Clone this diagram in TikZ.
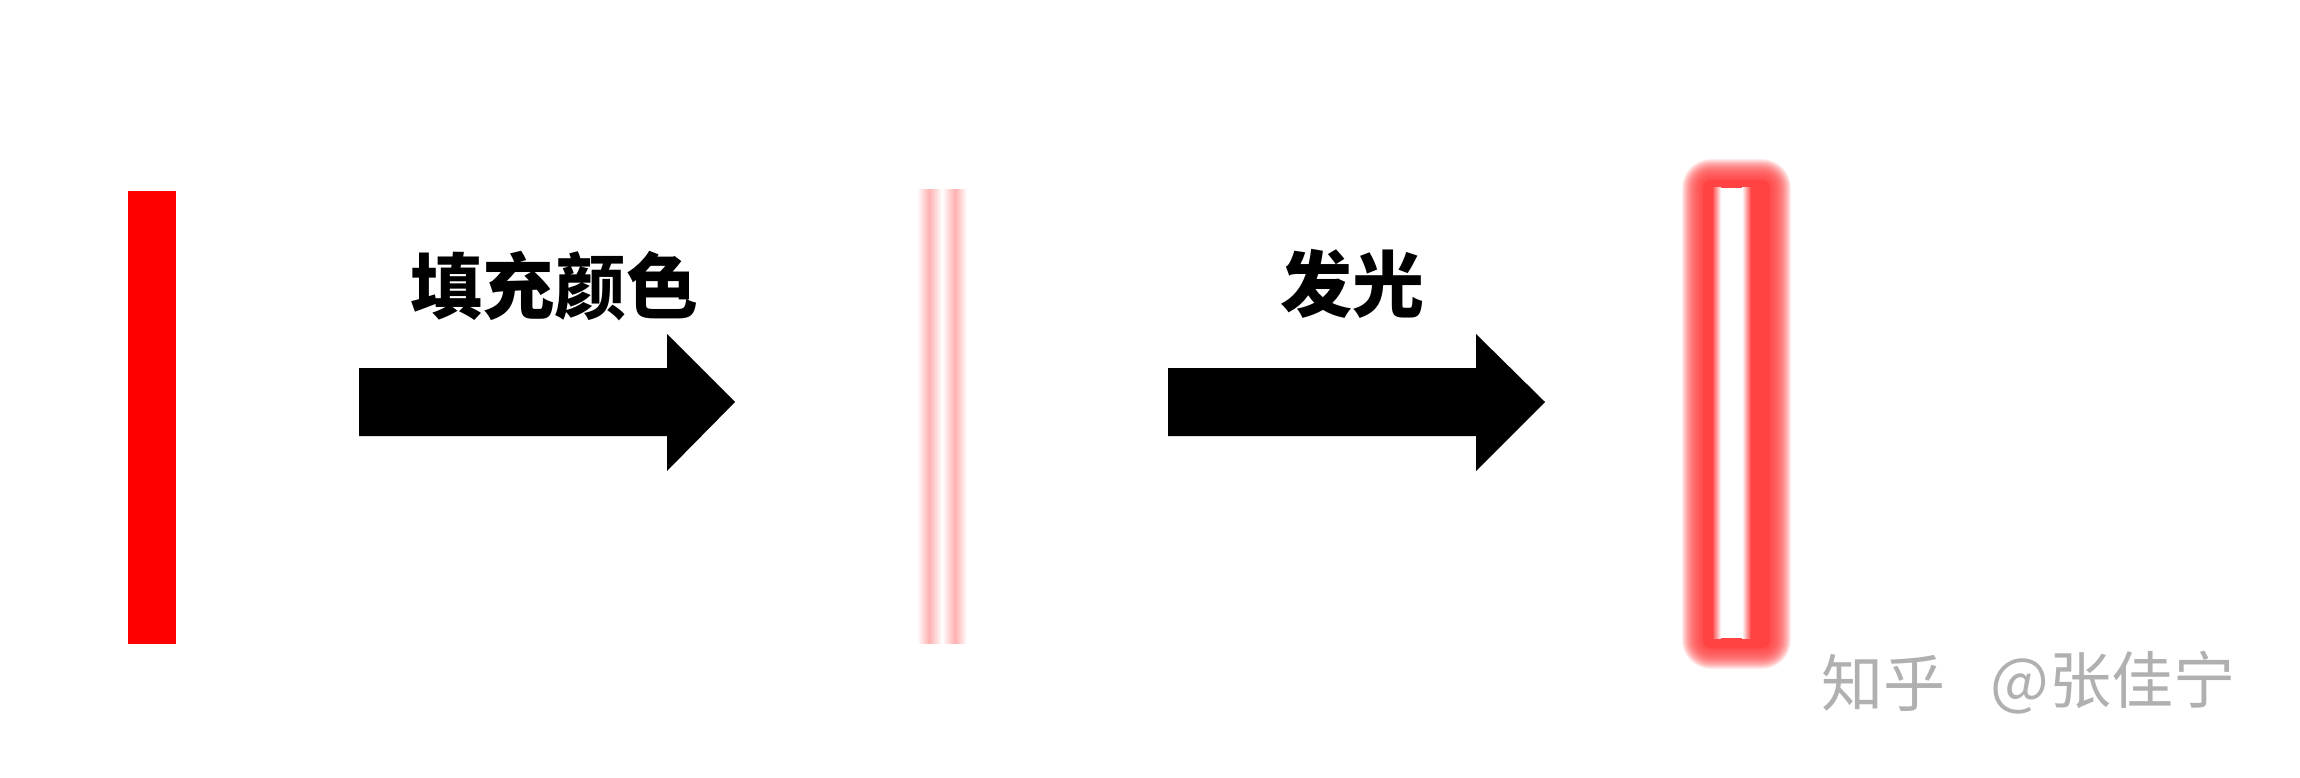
\documentclass[tikz,border=0pt]{standalone}
\usepackage{fontspec}
\newfontfamily\cjk{Noto Sans CJK SC}
\definecolor{pinkbar}{RGB}{255,176,176}
\definecolor{glowred}{RGB}{255,66,66}
\definecolor{wmgray}{RGB}{176,176,176}
\begin{document}
\begin{tikzpicture}[x=1pt,y=-1pt,
  bigarrow/.style={fill=black},
  steplabel/.style={font=\cjk\bfseries\fontsize{72}{80}\selectfont, inner sep=0pt, text=black},
  wmark/.style={font=\cjk\fontsize{62}{70}\selectfont, inner sep=0pt, text=wmgray}]
\useasboundingbox[fill=white] (0,0) rectangle (2300,778);
% original red bar
\fill[red] (128,191) rectangle (176,644);
% outlined (pink) bar
\shade[left color=white,right color=pinkbar] (917,190) rectangle (929,643);
\shade[left color=pinkbar,right color=white] (929,190) rectangle (942,643);
\shade[left color=white,right color=pinkbar] (942,190) rectangle (955,643);
\shade[left color=pinkbar,right color=white] (955,190) rectangle (967,643);
% glowing bar
\foreach \k in {1,...,30}{
  \fill[glowred, opacity=0.075, rounded corners=8+0.7*\k] (1703-0.7*\k,180-0.7*\k) rectangle (1770+0.7*\k,648+0.7*\k);
}
\fill[glowred, rounded corners=8] (1703,180) rectangle (1770,648);
\shade[left color=glowred,right color=white] (1712,188) rectangle (1721,638);
\fill[white] (1721,188) rectangle (1742,638);
\shade[left color=white,right color=glowred] (1742,188) rectangle (1751,638);
% arrows
\fill[bigarrow] (359,368) -- (667,368) -- (667,334) -- (735,402) -- (667,471) -- (667,436) -- (359,436) -- cycle;
\fill[bigarrow] (1168,368) -- (1476,368) -- (1476,334) -- (1545,402) -- (1476,471) -- (1476,436) -- (1168,436) -- cycle;
% labels
\node[steplabel] (fill) at (554,286) {填充颜色};
\node[steplabel] (glow) at (1352,284) {发光};
% watermark
\node[wmark] (wm1) at (1883,683) {知乎};
\node[wmark] (wm2) at (2113,683) {@张佳宁};
\end{tikzpicture}
\end{document}
